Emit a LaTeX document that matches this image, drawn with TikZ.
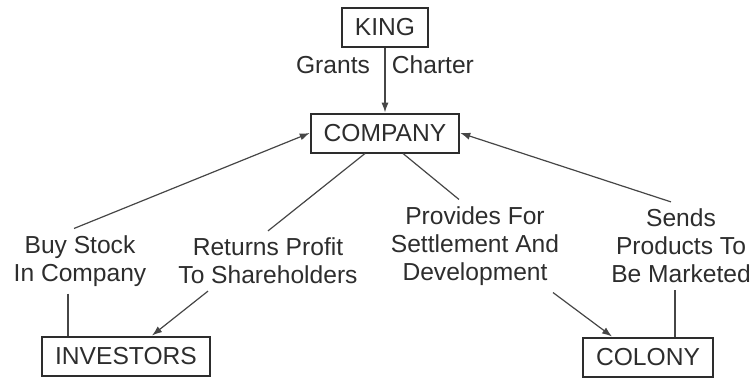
\documentclass[tikz,border=0pt]{standalone}
\usepackage{fontspec}
\setmainfont{Liberation Sans}
\definecolor{myink}{RGB}{45,45,45}
\definecolor{myline}{RGB}{70,70,70}
\usetikzlibrary{positioning,arrows.meta}

\begin{document}
\begin{tikzpicture}[x=0.5pt,y=-0.5pt,
    every node/.style={text=myink,font=\fontsize{12.3}{14}\selectfont},
    box/.style={draw=myink,line width=1pt,minimum height=19.5pt,inner xsep=6.5pt},
    lbl/.style={align=center},
    arr/.style={draw=myline,line width=0.6pt,-{Latex[length=5pt,width=3.6pt]}},
    lin/.style={draw=myline,line width=0.6pt},
    node distance=53pt
    ]
    \useasboundingbox (0,0) rectangle (752,377);

    \node (king) [box] at (385,27) {KING};
    \node (company) [box,below of=king] {COMPANY};
    \node (inv) [box] at (126,356) {INVESTORS};
    \node (col) [box] at (648,357) {COLONY};

    \node (buy) [lbl] at (80,261) {Buy Stock\\In Company};
    \node (ret) [lbl] at (268,261) {Returns Profit\\To Shareholders};
    \node (prov) [lbl] at (475,246) {Provides For\\Settlement And\\Development};
    \node (sends) [lbl] at (681,246) {Sends\\Products To\\Be Marketed};

    % the edges
    \draw[arr] (king) -- node[pos=0.27] {Grants\hspace{11pt}Charter} (company);
    \draw[lin] ([xshift=-6pt]buy.south) -- ([xshift=-6pt]buy.south |- inv.north);
    \draw[arr] ([xshift=-3pt]buy.north) -- (company.west);
    \draw[lin] ([xshift=-10pt]company.south) -- (ret.north);
    \draw[arr] ([xshift=-30pt]ret.south) -- ([xshift=13pt]inv.north);
    \draw[lin] ([xshift=9pt]company.south) -- ([xshift=-8pt]prov.north);
    \draw[arr] ([xshift=39pt]prov.south) -- ([xshift=-18pt]col.north);
    \draw[lin] ([xshift=-3pt]sends.south) -- ([xshift=-3pt]sends.south |- col.north);
    \draw[arr] ([xshift=-5pt]sends.north) -- (company.east);
\end{tikzpicture}
\end{document}
